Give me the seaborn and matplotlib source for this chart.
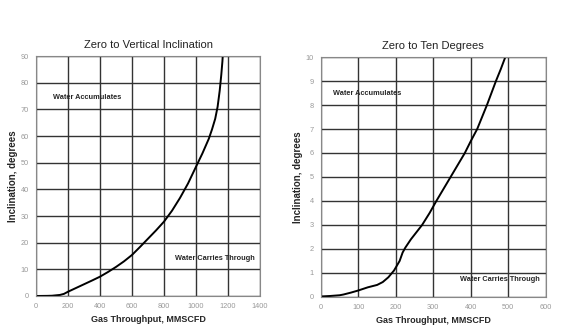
import matplotlib
matplotlib.use("Agg")
import matplotlib.pyplot as plt
import seaborn as sns
import numpy as np
import pandas as pd
from matplotlib.ticker import MultipleLocator

# Left chart: zero to vertical
vert_x = [0, 70, 100, 150, 175, 200, 250, 300, 350, 400, 450, 500, 550, 600, 650, 700, 750,
          800, 850, 900, 950, 1000, 1040, 1080, 1100, 1120, 1135, 1148, 1158, 1165, 1170]
vert_y = [0, 0.05, 0.1, 0.4, 0.8, 1.6, 3.0, 4.4, 5.8, 7.25, 9.0, 10.9, 13.0, 15.4, 18.4, 21.5, 24.6,
          27.9, 32.0, 36.8, 42.2, 48.5, 53.5, 59, 62.5, 66.5, 71, 77, 83, 88, 93]

# Right chart: zero to ten degrees
ten_x = [0, 25, 50, 60, 80, 100, 125, 150, 165, 180, 195, 210, 218, 225, 240, 255, 270, 290,
         308, 327, 346, 365, 384, 400, 417, 430, 443, 455, 467, 480, 492]
ten_y = [0.02, 0.04, 0.07, 0.1, 0.18, 0.27, 0.4, 0.5, 0.62, 0.82, 1.1, 1.5, 1.85, 2.05, 2.4, 2.7,
         3.0, 3.5, 4.0, 4.5, 5.0, 5.5, 6.0, 6.5, 7.0, 7.5, 8.0, 8.5, 9.0, 9.5, 10.0]

titles = ["Zero to Vertical Inclination", "Zero to Ten Degrees"]
xlabel = "Gas Throughput, MMSCFD"
ylabel = "Inclination, degrees"

sns.set_theme(style="white")
plt.rcParams['font.family'] = ['Liberation Sans', 'DejaVu Sans']

fig = plt.figure(figsize=(5.65, 3.34), dpi=100)
ax1 = fig.add_axes([0.0637, 0.1138, 0.3965, 0.7182])
ax2 = fig.add_axes([0.568, 0.111, 0.398, 0.7182])

df1 = pd.DataFrame({"x": vert_x, "y": vert_y})
df2 = pd.DataFrame({"x": ten_x, "y": ten_y})

sns.lineplot(data=df1, x="x", y="y", ax=ax1, color="black", lw=1.4, sort=False)
sns.lineplot(data=df2, x="x", y="y", ax=ax2, color="black", lw=1.4, sort=False)

specs = [
    (ax1, (0, 1400), 200, 40, (0, 90), 10, 2, titles[0],
     ("Water Accumulates", 108, 74.4), ("Water Carries Through", 869, 13.9)),
    (ax2, (0, 600), 100, 20, (0, 10), 1, 0.2, titles[1],
     ("Water Accumulates", 33, 8.5), ("Water Carries Through", 372, 0.72)),
]
for ax, xl, xmaj, xmin, yl, ymaj, ymin, title, t1, t2 in specs:
    ax.set_xlim(*xl)
    ax.set_ylim(*yl)
    ax.xaxis.set_major_locator(MultipleLocator(xmaj))
    ax.xaxis.set_minor_locator(MultipleLocator(xmin))
    ax.yaxis.set_major_locator(MultipleLocator(ymaj))
    ax.yaxis.set_minor_locator(MultipleLocator(ymin))
    ax.grid(True, which="major", color="#333333", lw=1.0)
    ax.set_axisbelow(True)
    ax.tick_params(which="both", direction="in", colors="#999999", labelcolor="#999999",
                   labelsize=5.3, width=0.6)
    ax.tick_params(which="major", length=0, pad=5)
    ax.tick_params(which="minor", length=2)
    for s in ax.spines.values():
        s.set_color("#888888")
        s.set_linewidth(0.8)
    ax.set_title(title, fontsize=8, color="#222222", pad=6)
    ax.set_xlabel(xlabel, fontsize=6.5, fontweight="bold", labelpad=4)
    ax.set_ylabel(ylabel, fontsize=7, fontweight="bold", labelpad=2)
    ax.text(t1[1], t1[2], t1[0], fontsize=5.3, fontweight="bold", va="center", ha="left")
    ax.text(t2[1], t2[2], t2[0], fontsize=5.3, fontweight="bold", va="center", ha="left")

fig.savefig("out.png", dpi=100, facecolor="white")
